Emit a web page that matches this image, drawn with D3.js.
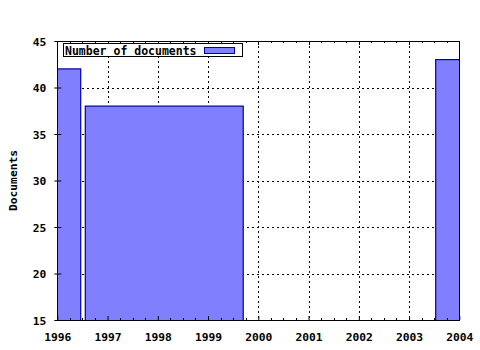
<!DOCTYPE html>
<html><head><meta charset="utf-8">
<script src="https://cdn.jsdelivr.net/npm/d3@7"></script>
<style>html,body{margin:0;padding:0;background:#fff;}svg{display:block;}</style>
</head><body>
<script>
const xTicks = [1996, 1997, 1998, 1999, 2000, 2001, 2002, 2003, 2004];
const yTicks = [15, 20, 25, 30, 35, 40, 45];
const barStart = [1995.53, 1996.557, 2003.53];
const barEnd = [1996.466, 1999.70, 2004.47];
const barValues = [42, 38, 43];
const seriesName = "Number of documents";
const yTitle = "Documents";

const W = 480, H = 350;
const L = 57.3, R = 459.3, T = 41, B = 320;
const svg = d3.select("body").append("svg").attr("width", W).attr("height", H);
const x = d3.scaleLinear().domain([1996, 2004]).range([L, R]);
const y = d3.scaleLinear().domain([15, 45]).range([B, T]);
const font = "'DejaVu Sans Mono', monospace";

svg.append("defs").append("clipPath").attr("id", "clip")
  .append("rect").attr("x", L).attr("y", T).attr("width", R - L).attr("height", B - T);

// grid
const grid = svg.append("g").attr("stroke", "#000").attr("stroke-width", 1)
  .attr("stroke-dasharray", "2,3").attr("shape-rendering", "crispEdges");
xTicks.slice(1, -1).forEach(t => grid.append("line")
  .attr("x1", Math.round(x(t)) + 0.5).attr("x2", Math.round(x(t)) + 0.5).attr("y1", T).attr("y2", B));
yTicks.slice(1, -1).forEach(t => grid.append("line")
  .attr("y1", Math.round(y(t)) + 0.5).attr("y2", Math.round(y(t)) + 0.5).attr("x1", L).attr("x2", R));

// bars
const bars = barValues.map((v, i) => ({s: barStart[i], e: barEnd[i], v}));
svg.append("g").attr("clip-path", "url(#clip)").selectAll("rect").data(bars).join("rect")
  .attr("x", d => x(d.s)).attr("width", d => x(d.e) - x(d.s))
  .attr("y", d => y(d.v)).attr("height", d => y(15) - y(d.v) + 2)
  .attr("fill", "#8080ff").attr("stroke", "#0000a0").attr("stroke-width", 1.2);

// axes
const xAxisB = d3.axisBottom(x).tickValues(xTicks).tickFormat(d3.format("d")).tickSizeInner(-4).tickSizeOuter(0).tickPadding(13);
const gx = svg.append("g").attr("transform", `translate(0,${B})`).call(xAxisB);
const yAxisL = d3.axisLeft(y).tickValues(yTicks).tickSizeInner(-4).tickSizeOuter(0).tickPadding(11);
const gy = svg.append("g").attr("transform", `translate(${L},0)`).call(yAxisL);
[gx, gy].forEach(g => {
  g.selectAll("text").attr("font-family", font).attr("font-weight", "bold").attr("font-size", 11.3).attr("fill", "#000");
  g.select(".domain").remove();
  g.selectAll("line").attr("stroke", "#000");
});
gy.selectAll("text").attr("dy", "0.38em");
gx.selectAll("text").attr("dy", "0.72em");
// outward parts of y ticks
gy.selectAll(".tick").append("line").attr("x1", -3).attr("x2", 0).attr("stroke", "#000");
// minor x ticks
const minor = [];
for (let i = 0; i < xTicks.length - 1; i++) for (let k = 1; k < 4; k++) minor.push(xTicks[i] + k / 4);
const mg = svg.append("g").attr("stroke", "#000").attr("shape-rendering", "crispEdges");
minor.forEach(t => {
  mg.append("line").attr("x1", Math.round(x(t)) + 0.5).attr("x2", Math.round(x(t)) + 0.5).attr("y1", B).attr("y2", B - 2);
  mg.append("line").attr("x1", Math.round(x(t)) + 0.5).attr("x2", Math.round(x(t)) + 0.5).attr("y1", T).attr("y2", T + 2);
});
xTicks.forEach(t => mg.append("line").attr("x1", Math.round(x(t)) + 0.5).attr("x2", Math.round(x(t)) + 0.5).attr("y1", T).attr("y2", T + 4));

// border
svg.append("rect").attr("x", Math.round(L) + 0.5).attr("y", T + 0.5).attr("width", Math.round(R) - Math.round(L)).attr("height", B - T)
  .attr("fill", "none").attr("stroke", "#000").attr("stroke-width", 1).attr("shape-rendering", "crispEdges");

// y title
svg.append("text").attr("transform", `translate(17,${(T + B) / 2}) rotate(-90)`)
  .attr("text-anchor", "middle").attr("font-family", font).attr("font-weight", "bold").attr("font-size", 11.3)
  .text(yTitle);

// legend
const lg = svg.append("g");
lg.append("rect").attr("x", 63.5).attr("y", 43.5).attr("width", 179).attr("height", 13)
  .attr("fill", "#fff").attr("stroke", "#000").attr("stroke-width", 1).attr("shape-rendering", "crispEdges");
lg.append("text").attr("x", 65).attr("y", 54.5).attr("font-family", font).attr("font-weight", "bold")
  .attr("font-size", 11.5).text(seriesName);
lg.append("rect").attr("x", 204.5).attr("y", 47.5).attr("width", 30).attr("height", 6)
  .attr("fill", "#8080ff").attr("stroke", "#0000a0").attr("stroke-width", 1);
</script>
</body></html>
